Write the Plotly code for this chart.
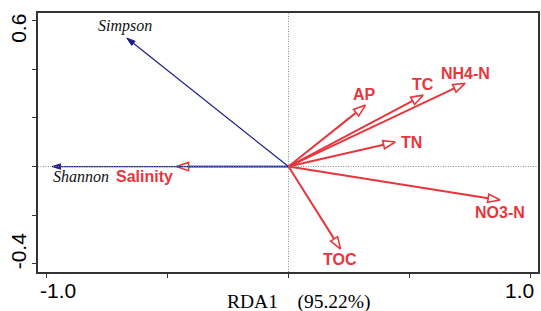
import numpy as np
import plotly.graph_objects as go

# Environmental variables (red open arrows)
env_names = ["Salinity", "AP", "TC", "NH4-N", "TN", "NO3-N", "TOC"]
env_x = [-0.462, 0.318, 0.556, 0.729, 0.441, 0.873, 0.215]
env_y = [0.0, 0.253, 0.294, 0.343, 0.101, -0.138, -0.340]

# Diversity indices (blue arrows)
sp_names = ["Simpson", "Shannon"]
sp_x = [-0.667, -0.975]
sp_y = [0.529, 0.0]

# tick labels
x_tickvals = [-1.0, -0.5, 0.0, 0.5, 1.0]
x_ticktext = ["-1.0", "", "", "", "1.0"]
y_tickvals = [-0.4, -0.2, 0.0, 0.2, 0.4, 0.6]
y_ticktext = ["-0.4", "", "", "", "", "0.6"]

# label pixel offsets (style)
env_shift = [(-32, -10), (-1, 11), (0, 11), (0, 10), (16, 0), (0, -12), (-1, -10)]
sp_shift = [(-2, 12), (29, -10)]
x_label_shift = {"-1.0": 11.5, "1.0": -11.5}
y_label_shift = {"0.6": -7.5, "-0.4": 13}

RED = "#e8363c"
BLUE = "#1c1c8c"
TICKFONT = dict(family="Liberation Sans, Arial", size=21, color="black")


def arrow_paths(xs, ys, L, W):
    lx, ly, hx, hy = [], [], [], []
    for x, y in zip(xs, ys):
        n = np.hypot(x, y)
        ux, uy = x / n, y / n
        bx, by = x - L * ux, y - L * uy
        px, py = -uy, ux
        lx += [0, bx, None]
        ly += [0, by, None]
        hx += [x, bx + W * px, bx - W * px, x, None]
        hy += [y, by + W * py, by - W * py, y, None]
    return lx, ly, hx, hy


fig = go.Figure()

# zero dotted lines
fig.add_shape(type="line", xref="x", yref="paper", x0=0, x1=0, y0=0, y1=1,
              line=dict(color="#888888", width=1, dash="1px,1.5px"))
fig.add_shape(type="line", xref="paper", yref="y", x0=0, x1=1, y0=0, y1=0,
              line=dict(color="#888888", width=1, dash="1px,1.5px"))

lx, ly, hx, hy = arrow_paths(env_x, env_y, 0.05, 0.017)
fig.add_trace(go.Scatter(x=lx, y=ly, mode="lines", line=dict(color=RED, width=2),
                         hoverinfo="skip", showlegend=False))
fig.add_trace(go.Scatter(x=hx, y=hy, mode="lines", line=dict(color=RED, width=1.6),
                         fill="toself", fillcolor="white",
                         hoverinfo="skip", showlegend=False))

lx, ly, hx, hy = arrow_paths(sp_x, sp_y, 0.035, 0.011)
fig.add_trace(go.Scatter(x=lx, y=ly, mode="lines", line=dict(color=BLUE, width=1.2),
                         hoverinfo="skip", showlegend=False))
fig.add_trace(go.Scatter(x=hx, y=hy, mode="lines", line=dict(color=BLUE, width=1),
                         fill="toself", fillcolor=BLUE,
                         hoverinfo="skip", showlegend=False))

for name, x, y, (dx, dy) in zip(env_names, env_x, env_y, env_shift):
    fig.add_annotation(x=x, y=y, text="<b>%s</b>" % name, showarrow=False, xshift=dx, yshift=dy,
                       font=dict(family="Liberation Sans, Arial", size=16, color=RED),
                       xanchor="center", yanchor="middle")
for name, x, y, (dx, dy) in zip(sp_names, sp_x, sp_y, sp_shift):
    fig.add_annotation(x=x, y=y, text="<i>%s</i>" % name, showarrow=False, xshift=dx, yshift=dy,
                       font=dict(family="Liberation Serif, Times New Roman", size=16, color="#111111"),
                       xanchor="center", yanchor="middle")

# tick labels (pulled inward as in the reference)
for v, t in zip(x_tickvals, x_ticktext):
    if t:
        fig.add_annotation(x=v, xref="x", y=-0.073, yref="paper", text=t, showarrow=False,
                           xshift=x_label_shift.get(t, 0), font=TICKFONT,
                           xanchor="center", yanchor="middle")
for v, t in zip(y_tickvals, y_ticktext):
    if t:
        fig.add_annotation(x=-0.0388, xref="paper", y=v, yref="y", text=t, showarrow=False,
                           yshift=y_label_shift.get(t, 0), font=TICKFONT, textangle=-90,
                           xanchor="center", yanchor="middle")

fig.add_annotation(xref="paper", yref="paper", x=0.522, y=-0.116,
                   text="RDA1&nbsp;&nbsp;&nbsp;&nbsp;(95.22%)", showarrow=False,
                   font=dict(family="Liberation Serif, Times New Roman", size=19.5, color="black"),
                   xanchor="center", yanchor="middle")

axis_common = dict(showgrid=False, zeroline=False, showline=True, mirror=True,
                   linecolor="#333333", linewidth=1.5, ticks="outside", ticklen=4,
                   tickcolor="#333333", tickwidth=1.2, showticklabels=False)

fig.update_xaxes(range=[-1.033, 1.029], tickmode="array", tickvals=x_tickvals,
                 ticktext=x_ticktext, **axis_common)
fig.update_yaxes(range=[-0.434, 0.632], tickmode="array", tickvals=y_tickvals,
                 ticktext=y_ticktext, **axis_common)

fig.update_layout(width=541, height=311, margin=dict(l=38, r=1, t=13, b=39),
                  paper_bgcolor="white", plot_bgcolor="white")

fig.write_html("out.html", config={"displayModeBar": False},
               post_script="document.body.style.margin='0';document.body.style.overflow='hidden';")
